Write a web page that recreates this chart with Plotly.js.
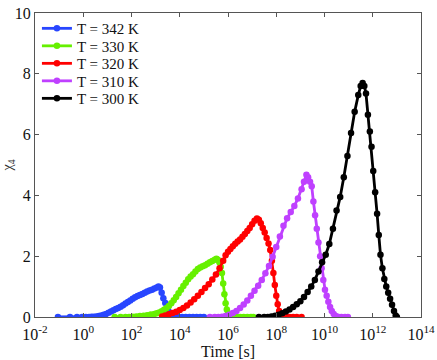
<!DOCTYPE html>
<html>
<head>
<meta charset="utf-8">
<script src="https://cdn.plot.ly/plotly-3.0.1.min.js"></script>
<style>
  html, body { margin: 0; padding: 0; background: #fff; }
  #chart { width: 437px; height: 360px; }
</style>
</head>
<body>
<div id="chart"></div>
<script>
// chi_4 vs tiempo, una curva por temperatura (tiempos guardados como log10 t)
const etiquetas = ["T = 342 K", "T = 330 K", "T = 320 K", "T = 310 K", "T = 300 K"];
const colores = ["#2846ff", "#66f000", "#ff0000", "#bf40ff", "#000000"];

const logT342 = [-1.05, -0.55, -0.26, -0.05, 0.11, 0.24, 0.35, 0.45, 0.55, 0.65, 0.75, 0.85, 0.95, 1.05, 1.15, 1.25, 1.35, 1.45, 1.55, 1.65, 1.75, 1.85, 1.95, 2.05, 2.15, 2.25, 2.35, 2.45, 2.55, 2.65, 2.75, 2.85, 2.95, 3.05, 3.12, 3.18, 3.25, 3.32, 3.4, 3.47, 3.53, 3.58, 3.63, 3.7, 3.8, 3.95, 4.1, 4.25, 4.4, 4.55, 4.7, 4.85, 5.0];
const chi342 = [0, 0, 0, 0, 0, 0, 0.01, 0.01, 0.02, 0.03, 0.05, 0.07, 0.1, 0.14, 0.18, 0.22, 0.26, 0.3, 0.34, 0.39, 0.44, 0.49, 0.54, 0.6, 0.65, 0.69, 0.72, 0.76, 0.8, 0.84, 0.87, 0.9, 0.94, 0.97, 1.0, 0.97, 0.8, 0.62, 0.46, 0.31, 0.2, 0.1, 0.04, 0.01, 0, 0, 0, 0, 0, 0, 0, 0, 0];

const logT330 = [1.3, 1.55, 1.75, 1.9, 2.05, 2.2, 2.35, 2.5, 2.65, 2.8, 2.95, 3.05, 3.15, 3.25, 3.35, 3.45, 3.55, 3.65, 3.75, 3.85, 3.95, 4.05, 4.15, 4.25, 4.35, 4.45, 4.55, 4.65, 4.75, 4.85, 4.95, 5.05, 5.15, 5.25, 5.35, 5.45, 5.52, 5.58, 5.64, 5.7, 5.75, 5.8, 5.85, 5.9, 5.95, 6.0, 6.05, 6.12, 6.2, 6.35, 6.5, 6.65, 6.8, 6.95, 7.05];
const chi330 = [0, 0, 0, 0, 0.01, 0.02, 0.03, 0.04, 0.06, 0.08, 0.1, 0.12, 0.15, 0.19, 0.24, 0.3, 0.36, 0.45, 0.55, 0.66, 0.78, 0.9, 1.02, 1.13, 1.24, 1.33, 1.41, 1.5, 1.58, 1.63, 1.67, 1.7, 1.75, 1.8, 1.84, 1.88, 1.92, 1.88, 1.8, 1.65, 1.45, 1.1, 0.75, 0.45, 0.25, 0.12, 0.05, 0.02, 0, 0, 0, 0, 0, 0, 0];

const logT320 = [3.27, 3.4, 3.55, 3.7, 3.85, 4.0, 4.15, 4.3, 4.45, 4.6, 4.75, 4.9, 5.05, 5.2, 5.35, 5.5, 5.65, 5.8, 5.9, 6.0, 6.1, 6.2, 6.3, 6.4, 6.5, 6.6, 6.7, 6.8, 6.9, 7.0, 7.1, 7.2, 7.28, 7.36, 7.44, 7.52, 7.6, 7.68, 7.75, 7.82, 7.88, 7.94, 8.0, 8.06, 8.12, 8.18, 8.26, 8.4, 8.55, 8.7, 8.85, 9.05];
const chi320 = [0.02, 0.05, 0.09, 0.13, 0.17, 0.23, 0.3, 0.38, 0.48, 0.58, 0.7, 0.82, 0.95, 1.08, 1.23, 1.4, 1.6, 1.85, 2.03, 2.15, 2.24, 2.33, 2.41, 2.48, 2.55, 2.64, 2.73, 2.83, 2.93, 3.05, 3.17, 3.24, 3.2, 3.08, 2.93, 2.78, 2.6, 2.42, 2.2, 1.85, 1.45, 1.05, 0.7, 0.42, 0.2, 0.08, 0.02, 0, 0, 0, 0, 0];

const logT310 = [5.25, 5.45, 5.6, 5.75, 5.9, 6.05, 6.2, 6.35, 6.5, 6.65, 6.8, 6.95, 7.1, 7.25, 7.4, 7.55, 7.7, 7.85, 8.0, 8.15, 8.3, 8.45, 8.6, 8.75, 8.9, 9.05, 9.15, 9.25, 9.32, 9.4, 9.47, 9.54, 9.61, 9.68, 9.75, 9.82, 9.88, 9.95, 10.02, 10.09, 10.16, 10.23, 10.3, 10.38, 10.46, 10.55, 10.7, 10.85, 10.97];
const chi310 = [0, 0, 0, 0.01, 0.03, 0.07, 0.13, 0.2, 0.3, 0.41, 0.54, 0.7, 0.86, 1.03, 1.22, 1.44, 1.68, 1.98, 2.3, 2.65, 3.0, 3.25, 3.45, 3.65, 3.9, 4.2, 4.45, 4.68, 4.6, 4.45, 4.3, 3.8, 3.35, 2.9, 2.45, 2.0, 1.6, 1.22, 0.9, 0.7, 0.5, 0.33, 0.2, 0.1, 0.03, 0.01, 0, 0, 0];

const logT300 = [7.28, 7.5, 7.65, 7.8, 7.95, 8.1, 8.25, 8.4, 8.55, 8.7, 8.85, 9.0, 9.15, 9.3, 9.45, 9.6, 9.75, 9.9, 10.05, 10.2, 10.35, 10.5, 10.65, 10.8, 10.95, 11.1, 11.25, 11.4, 11.5, 11.58, 11.65, 11.72, 11.8, 11.88, 11.95, 12.02, 12.1, 12.18, 12.25, 12.32, 12.4, 12.48, 12.56, 12.64, 12.72, 12.8, 12.88, 12.95, 13.0];
const chi300 = [0, 0, 0, 0.02, 0.04, 0.07, 0.12, 0.18, 0.25, 0.33, 0.42, 0.52, 0.66, 0.82, 1.0, 1.22, 1.5, 1.8, 2.05, 2.4, 2.9, 3.5, 3.95, 4.6, 5.3, 6.05, 6.75, 7.3, 7.6, 7.7, 7.6, 7.35, 6.65, 6.1, 5.6, 4.8, 4.1, 3.4, 2.7, 2.05, 1.6, 1.25, 1.0, 0.8, 0.6, 0.4, 0.2, 0.05, 0];

const xTickExp = [-2, 0, 2, 4, 6, 8, 10, 12, 14];
const yTicks = [0, 2, 4, 6, 8, 10];

const series = [[logT342, chi342], [logT330, chi330], [logT320, chi320], [logT310, chi310], [logT300, chi300]];

const serif = "Liberation Serif";

const traces = series.map(([lt, y], i) => ({
  type: "scatter",
  mode: "lines+markers",
  name: etiquetas[i],
  x: lt.map((e) => Math.pow(10, e)),
  y: y,
  line: { color: colores[i], width: 2.8 },
  marker: { color: colores[i], size: 6.5 },
}));

const ejeComun = {
  showline: true, linecolor: "#555", linewidth: 1, mirror: "allticks",
  ticks: "inside", ticklen: 4, tickcolor: "#555",
  showgrid: false, zeroline: false,
  tickfont: { family: serif, size: 16, color: "#111" },
};

Plotly.newPlot("chart", traces, {
  width: 437, height: 360,
  margin: { l: 35, r: 16, t: 13, b: 43 },
  paper_bgcolor: "#fff", plot_bgcolor: "#fff",
  showlegend: true,
  legend: {
    x: 0.005, y: 1.003, xanchor: "left", yanchor: "top",
    bgcolor: "rgba(255,255,255,0)", borderwidth: 0,
    font: { family: serif, size: 15, color: "#111" },
    itemwidth: 30, tracegroupgap: 0,
  },
  xaxis: {
    ...ejeComun,
    type: "log", range: [-2, 14],
    tickvals: xTickExp.map((e) => Math.pow(10, e)),
    ticktext: xTickExp.map((e) => "10<sup>" + e + "</sup>"),
    ticklabelstandoff: 3,
  },
  yaxis: {
    ...ejeComun,
    range: [0, 10],
    tickvals: yTicks,
    title: { text: "χ<sub>4</sub>", font: { family: serif, size: 14, color: "#333" }, standoff: 2 },
  },
  annotations: [{
    text: "Time [s]", xref: "paper", yref: "paper", x: 0.5, y: -0.112,
    xanchor: "center", yanchor: "middle", showarrow: false,
    font: { family: serif, size: 16, color: "#111" },
  }],
}, { displayModeBar: false, staticPlot: true }).then((gd) => {
  // apretar el espaciado vertical de la leyenda (~17.5 px como el original)
  const items = gd.querySelectorAll(".legend .traces");
  if (!items.length) return;
  const re = /translate\(([-\d.]+),\s*([-\d.]+)\)/;
  const y0 = parseFloat(re.exec(items[0].getAttribute("transform") || "translate(0,0)")[2]);
  items.forEach((el, i) => {
    const m = re.exec(el.getAttribute("transform") || "");
    if (!m) return;
    el.setAttribute("transform", `translate(${m[1]},${y0 + i * 17.5})`);
  });
});
</script>
</body>
</html>
